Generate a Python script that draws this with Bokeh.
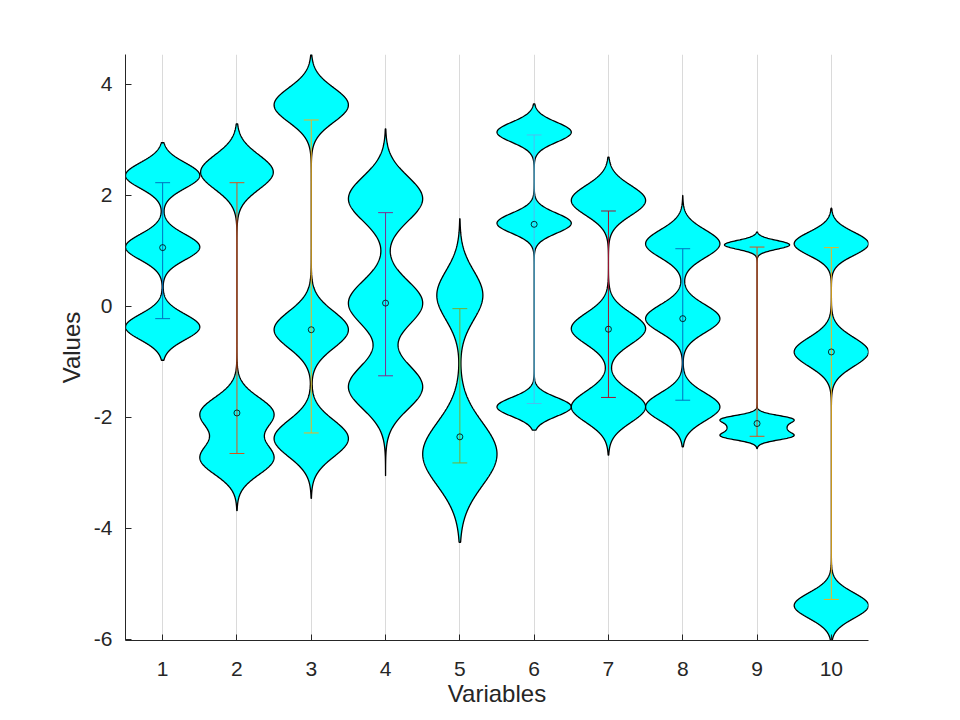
import numpy as np
from bokeh.plotting import figure
from bokeh.models import Range1d, FixedTicker, ColumnDataSource
from bokeh.embed import file_html
from bokeh.resources import INLINE

# ---------------- data ----------------
categories = [1, 2, 3, 4, 5, 6, 7, 8, 9, 10]
x_tick_labels = ["1", "2", "3", "4", "5", "6", "7", "8", "9", "10"]
y_ticks = [-6, -4, -2, 0, 2, 4]
y_tick_labels = ["-6", "-4", "-2", "0", "2", "4"]

# circle marker (central value) and error bar ends
centre_values = [1.06, -1.92, -0.42, 0.06, -2.35, 1.48, -0.41, -0.22, -2.11, -0.82]
bar_low = [-0.22, -2.65, -2.28, -1.25, -2.82, -1.75, -1.64, -1.69, -2.34, -5.28]
bar_high = [2.23, 2.23, 3.36, 1.69, -0.04, 3.09, 1.72, 1.04, 1.07, 1.06]

# data extent of each violin (tips)
violin_min = [-0.97, -3.68, -3.46, -3.05, -4.25, -2.23, -2.68, -2.53, -2.56, -6.02]
violin_max = [2.95, 3.29, 4.54, 3.20, 1.58, 3.65, 2.69, 2.00, 1.34, 1.77]

# density modes of each violin: location, relative weight, spread
mode_centres = [
    [2.36, 1.07, -0.37],
    [2.42, -1.93, -2.74],
    [3.63, -0.42, -2.38],
    [1.94, 0.06, -1.45],
    [0.20, -2.66],
    [3.14, 1.50, -1.81],
    [1.91, -0.40, -1.81],
    [1.13, -0.22, -1.81],
    [1.11, -2.03, -2.185, -2.34],
    [1.13, -0.82, -5.39],
]
mode_weights = [
    [1, 1, 1],
    [1, 1, 1],
    [1, 1, 1],
    [1, 1, 1],
    [0.62, 1],
    [1, 1, 1],
    [1, 1, 1],
    [1, 1, 1],
    [1, 1, 0.75, 1],
    [1, 1, 1],
]
mode_spreads = [
    [0.23, 0.23, 0.23],
    [0.31, 0.29, 0.29],
    [0.31, 0.33, 0.33],
    [0.40, 0.40, 0.40],
    [0.44, 0.57],
    [0.18, 0.18, 0.17],
    [0.27, 0.28, 0.28],
    [0.25, 0.25, 0.25],
    [0.08, 0.07, 0.08, 0.07],
    [0.21, 0.26, 0.23],
]

bar_colors = ["#0072BD", "#D95319", "#EDB120", "#7E2F8E", "#77AC30",
              "#4DBEEE", "#A2142F", "#0072BD", "#D95319", "#EDB120"]

# ---------------- figure ----------------
AX = "#262626"
FONT = "Liberation Sans"

p = figure(width=944, height=712,
           x_range=Range1d(0.5, 10.5), y_range=Range1d(-6.02, 4.54),
           output_backend="svg", toolbar_location=None,
           min_border_left=125, min_border_right=76,
           min_border_top=54, min_border_bottom=72)
p.outline_line_color = None
p.background_fill_color = "white"
p.border_fill_color = "white"

p.xaxis.ticker = FixedTicker(ticks=categories)
p.xaxis.major_label_overrides = {c: t for c, t in zip(categories, x_tick_labels)}
p.yaxis.ticker = FixedTicker(ticks=y_ticks)
p.yaxis.major_label_overrides = {c: t for c, t in zip(y_ticks, y_tick_labels)}

for ax in (p.xaxis[0], p.yaxis[0]):
    ax.axis_line_color = AX
    ax.axis_line_width = 1
    ax.major_tick_line_color = AX
    ax.major_tick_in = 6
    ax.major_tick_out = 0
    ax.minor_tick_line_color = None
    ax.major_label_text_font = FONT
    ax.major_label_text_font_size = "21px"
    ax.major_label_text_color = AX
    ax.axis_label_text_font = FONT
    ax.axis_label_text_font_size = "24px"
    ax.axis_label_text_color = AX
    ax.axis_label_text_font_style = "normal"

p.xaxis.axis_label = "Variables"
p.yaxis.axis_label = "Values"
p.xaxis.major_label_standoff = 21
p.yaxis.major_label_standoff = 13
p.xaxis.axis_label_standoff = 1
p.yaxis.axis_label_standoff = 6

p.xgrid.grid_line_color = "#DADADA"
p.xgrid.grid_line_width = 1
p.ygrid.grid_line_color = None

# ---------------- violins ----------------
xs_all, ys_all = [], []
for i, xc in enumerate(categories):
    yy = np.linspace(violin_min[i], violin_max[i], 700)
    dens = np.zeros_like(yy)
    for c, w, s in zip(mode_centres[i], mode_weights[i], mode_spreads[i]):
        dens += w * np.exp(-0.5 * ((yy - c) / s) ** 2)
    half = 0.5 * dens / dens.max()
    xs_all.append(np.concatenate([xc + half, (xc - half)[::-1]]))
    ys_all.append(np.concatenate([yy, yy[::-1]]))

p.patches(xs=xs_all, ys=ys_all, fill_color="#00FFFF", line_color="black",
          line_width=1.3)

# ---------------- error bars ----------------
cap = 0.1
bars = ColumnDataSource(dict(x=categories, lo=bar_low, hi=bar_high,
                             xl=[c - cap for c in categories],
                             xr=[c + cap for c in categories],
                             color=bar_colors))
p.segment(x0="x", y0="lo", x1="x", y1="hi", line_color="color",
          line_width=1, source=bars)
p.segment(x0="xl", y0="lo", x1="xr", y1="lo", line_color="color",
          line_width=1, source=bars)
p.segment(x0="xl", y0="hi", x1="xr", y1="hi", line_color="color",
          line_width=1, source=bars)

p.scatter(x=categories, y=centre_values, marker="circle", size=6,
          fill_color=None, line_color="black", line_width=0.8)

open("out.html", "w").write(file_html(p, INLINE))
